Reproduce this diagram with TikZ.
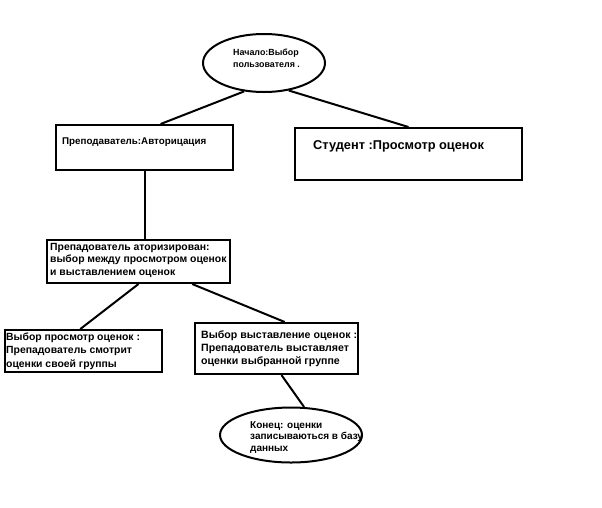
\documentclass[tikz,border=0pt]{standalone}
\usepackage{fontspec}
\setmainfont{Liberation Sans}
\usetikzlibrary{shapes.geometric,calc}
\begin{document}
\begin{tikzpicture}[x=1pt,y=-1pt,
  box/.style={draw,line width=2pt,rectangle,inner sep=0pt},
  oval/.style={draw,line width=2pt,ellipse,inner sep=0pt},
  link/.style={line width=2pt},
  txt/.style={inner sep=0pt,anchor=north west,align=left,font=\bfseries\fontsize{8.9}{12}\selectfont},
  txtb/.style={txt,font=\bfseries\fontsize{10.4}{12.6}\selectfont}]
\useasboundingbox[fill=white] (0,0) rectangle (602,507);

% shapes
\node[oval,minimum width=122,minimum height=58] (start) at (264,63) {};
\node[box,minimum width=177,minimum height=45] (teach) at (144.5,147.5) {};
\node[box,minimum width=227,minimum height=52] (stud) at (408.5,154) {};
\node[box,minimum width=183,minimum height=43] (auth) at (138.5,261.5) {};
\node[box,minimum width=157,minimum height=42] (view) at (83.5,351) {};
\node[box,minimum width=163,minimum height=51] (grade) at (276.5,348.5) {};
\node[oval,minimum width=142,minimum height=55] (finish) at (291,435) {};

% texts
\node[txt] (tstart) at (233,48.5) {Начало:Выбор\\пользователя .};
\node[txt,font=\bfseries\fontsize{9.8}{12}\selectfont] (tteach) at (62,138) {Преподаватель:Авторицация};
\node[txt,font=\bfseries\fontsize{12.8}{14}\selectfont] (tstud) at (313,140) {Студент :Просмотр оценок};
\node[txtb] (tauth) at (50,243) {Препадователь аторизирован:\\выбор между просмотром оценок\\и выставлением оценок};
\node[txtb,font=\bfseries\fontsize{10.4}{13.5}\selectfont] (tview) at (6,332.5) {Выбор просмотр оценок :\\Препадователь смотрит\\оценки своей группы};
\node[txtb,font=\bfseries\fontsize{10.6}{12.6}\selectfont] (tgrade) at (201,331) {Выбор выставление оценок :\\Препадователь выставляет\\оценки выбранной группе};
\node[txt,font=\bfseries\fontsize{10}{11.7}\selectfont] (tfinish) at (250,421) {Конец: оценки\\записываються в базу\\данных};

% connectors
\draw[link] (start.-125) -- ($(teach.north west)!0.59!(teach.north east)$);
\draw[link] (start.-48) -- ($(stud.north west)!0.5!(stud.north east)$);
\draw[link] (teach.south) -- (teach.south |- auth.north);
\draw[link] ($(auth.south west)!0.5!(auth.south east)$) -- ($(view.north west)!0.48!(view.north east)$);
\draw[link] ($(auth.south west)!0.79!(auth.south east)$) -- ($(grade.north west)!0.55!(grade.north east)$);
\draw[link] ($(grade.south west)!0.53!(grade.south east)$) -- (finish.65);
\end{tikzpicture}
\end{document}
